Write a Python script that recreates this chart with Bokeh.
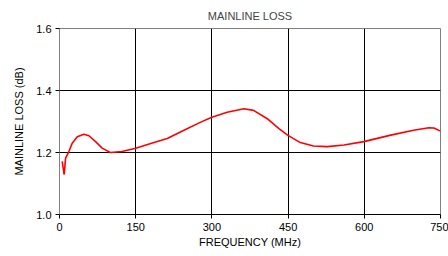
from bokeh.plotting import figure
from bokeh.embed import file_html
from bokeh.resources import INLINE
from bokeh.models import Label, FixedTicker, Range1d, CustomJSTickFormatter

freq = [5.3, 9.2, 12, 18.4, 25, 35, 48, 58, 71, 84, 100, 123, 150, 186, 212, 245, 278, 300, 330, 363, 382, 409, 432, 449, 474, 500, 527, 560, 599, 652, 697, 727, 737, 750]
loss = [1.171, 1.129, 1.182, 1.203, 1.230, 1.251, 1.259, 1.254, 1.235, 1.214, 1.200, 1.203, 1.214, 1.232, 1.245, 1.272, 1.298, 1.314, 1.330, 1.341, 1.336, 1.309, 1.277, 1.256, 1.232, 1.221, 1.219, 1.224, 1.235, 1.256, 1.272, 1.280, 1.279, 1.269]
x_ticks = [0, 150, 300, 450, 600, 750]
y_ticks = [1.0, 1.2, 1.4, 1.6]

FONT = "Liberation Sans"

p = figure(width=448, height=256, output_backend="svg", toolbar_location=None,
           x_range=Range1d(0, 750), y_range=Range1d(1.0, 1.6),
           min_border_left=59, min_border_right=8, min_border_top=25, min_border_bottom=42)

p.line(freq, loss, line_color="#ff0000", line_width=1.6)

p.title.text = "MAINLINE LOSS"
p.title.align = "center"
p.title.text_font = FONT
p.title.text_font_size = "11px"
p.title.text_font_style = "normal"
p.title.offset = 0
p.title.standoff = 14

p.xaxis.ticker = FixedTicker(ticks=x_ticks)
p.yaxis.ticker = FixedTicker(ticks=y_ticks)
p.yaxis.formatter = CustomJSTickFormatter(code="return tick.toFixed(1);")
p.xaxis.axis_label = "FREQUENCY (MHz)"
p.yaxis.axis_label = "MAINLINE LOSS (dB)"
for ax in (p.xaxis, p.yaxis):
    ax.axis_label_text_font = FONT
    ax.axis_label_text_font_size = "11px"
    ax.axis_label_text_font_style = "normal"
    ax.axis_label_text_color = "#000000"
    ax.major_label_text_font = FONT
    ax.major_label_text_font_size = "11px"
    ax.major_label_text_color = "#000000"
    ax.axis_line_color = "#000000"
    ax.major_tick_line_color = "#000000"
    ax.major_tick_out = 4
    ax.major_tick_in = 0
    ax.minor_tick_line_color = None
    ax.axis_label_standoff = 2
    ax.major_label_standoff = 4
p.yaxis.axis_line_color = "#808080"
p.yaxis.axis_label_standoff = 8

p.xgrid.grid_line_color = "#000000"
p.ygrid.grid_line_color = "#000000"
p.outline_line_color = "#808080"
p.outline_line_width = 1

p.add_layout(Label(x=5, y=1.6, x_units="data", y_units="data", y_offset=3, text="at RF level of -10 dBm",
                   text_font=FONT, text_font_size="7px", text_color="#000000"))

open("out.html", "w").write(file_html(p, INLINE))
